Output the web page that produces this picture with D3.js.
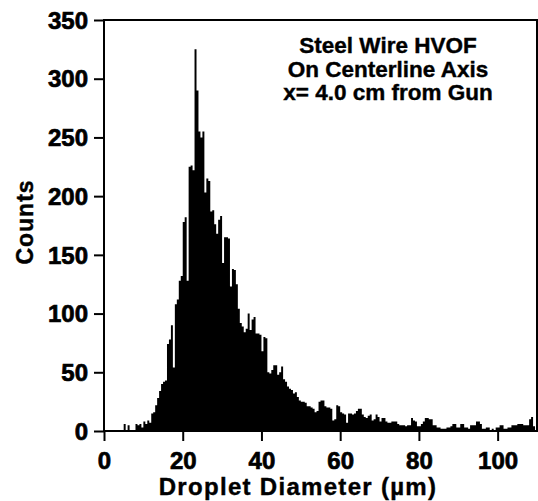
<!DOCTYPE html>
<html>
<head>
<meta charset="utf-8">
<script src="https://cdn.jsdelivr.net/npm/d3@7"></script>
<style>
  body { margin: 0; background: #fff; }
  svg { display: block; }
  .tick text { font-family: "Liberation Sans", Arial, sans-serif; font-weight: bold; font-size: 24px; fill: #000; stroke: #000; stroke-width: 0.7px; }
  .lbl { font-family: "Liberation Sans", Arial, sans-serif; font-weight: bold; fill: #000; stroke: #000; stroke-width: 0.4px; }
</style>
</head>
<body>
<script>
var width = 538,
    height = 501;

// histogram: bin width 0.5 um, starting at 0
var binStart = 0,
    binWidth = 0.5;
var counts = [
  0,0,0,0,0,0,0,0,0,0,
  6,0,5,0,0,0,6,5,6,3,
  8,6,9,7,15,16,22,28,34,40,
  42,43,74,78,90,54,108,112,128,132,
  178,182,128,225,226,222,325,290,255,250,
  255,203,215,213,187,188,176,168,180,183,
  143,165,165,164,123,138,137,125,104,92,
  89,84,87,100,86,95,97,83,83,82,
  68,80,79,50,49,52,56,56,48,50,
  55,44,42,38,36,35,32,33,29,26,
  25,25,24,21,21,20,19,16,17,25,
  26,26,21,20,20,19,9,10,22,21,
  16,15,14,7,15,15,14,15,17,19,
  19,14,12,11,13,14,9,10,14,12,
  8,11,11,8,7,7,8,8,8,6,
  5,5,5,4,5,5,11,9,8,4,
  4,6,8,11,11,10,10,5,5,3,
  3,2,2,2,3,3,4,6,6,3,
  3,6,6,3,3,2,5,5,5,8,
  8,6,2,2,3,3,0,2,0,3,
  3,5,5,2,2,3,3,5,5,5,
  6,6,6,5,5,5,10,12,4,0
];

var xTicks = [0, 20, 40, 60, 80, 100];
var yTicks = [0, 50, 100, 150, 200, 250, 300, 350];
var titleLines = ["Steel Wire HVOF", "On Centerline Axis", "x= 4.0 cm from Gun"];
var xTitle = "Droplet Diameter (\u00b5m)";
var yTitle = "Counts";

var plotL = 104, plotR = 537, plotT = 20, plotB = 431;

var x = d3.scaleLinear().domain([0, 110]).range([plotL, plotR]);
var y = d3.scaleLinear().domain([0, 350]).range([plotB, plotT]);

var svg = d3.select("body").append("svg")
    .attr("width", width)
    .attr("height", height);

// bars as one stepped area
var pts = counts.map(function(c, i) { return { x: binStart + i * binWidth, y: c }; });
pts.push({ x: binStart + counts.length * binWidth, y: counts[counts.length - 1] });

var area = d3.area()
    .x(function(d) { return x(d.x); })
    .y0(y(0))
    .y1(function(d) { return y(d.y); })
    .curve(d3.curveStepAfter);

svg.append("path")
    .datum(pts)
    .attr("d", area)
    .attr("fill", "#000");

// frame
svg.append("rect")
    .attr("x", plotL).attr("y", plotT)
    .attr("width", plotR - plotL).attr("height", plotB - plotT)
    .attr("fill", "none")
    .attr("stroke", "#000")
    .attr("stroke-width", 2);

var yAxis = svg.append("g")
    .attr("transform", "translate(" + plotL + ",0)")
    .call(d3.axisLeft(y).tickValues(yTicks).tickSize(10).tickPadding(6).tickFormat(d3.format("d")));
yAxis.select(".domain").remove();
yAxis.selectAll(".tick line").attr("stroke", "#000").attr("stroke-width", 2);
yAxis.selectAll(".tick text").attr("dy", "0.34em");

var xAxis = svg.append("g")
    .attr("transform", "translate(0," + plotB + ")")
    .call(d3.axisBottom(x).tickValues(xTicks).tickSize(10).tickPadding(11).tickFormat(d3.format("d")));
xAxis.select(".domain").remove();
xAxis.selectAll(".tick line").attr("stroke", "#000").attr("stroke-width", 2);

// axis titles
svg.append("text")
    .attr("class", "lbl")
    .attr("x", 298).attr("y", 495)
    .attr("text-anchor", "middle")
    .style("font-size", "24px")
    .style("letter-spacing", "1.3px")
    .text(xTitle);

svg.append("text")
    .attr("class", "lbl")
    .attr("transform", "translate(33,222) rotate(-90)")
    .attr("text-anchor", "middle")
    .style("font-size", "23px")
    .style("letter-spacing", "1px")
    .text(yTitle);

// annotation
svg.selectAll(".title")
    .data(titleLines)
  .enter().append("text")
    .attr("class", "lbl title")
    .attr("x", 388)
    .attr("y", function(d, i) { return 53 + i * 23.5; })
    .attr("text-anchor", "middle")
    .style("font-size", "22.5px")
    .text(function(d) { return d; });
</script>
</body>
</html>
